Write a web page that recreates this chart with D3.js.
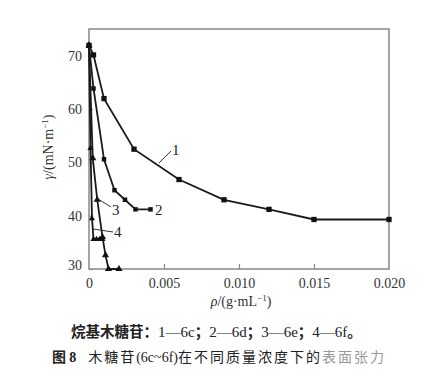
<!DOCTYPE html>
<html><head><meta charset="utf-8">
<script src="https://cdn.jsdelivr.net/npm/d3@7"></script>
<style>body{margin:0;background:#fff}svg{display:block}</style>
</head><body><svg id="c" width="434" height="376"></svg>
<script>
const xTicks = [0, 0.005, 0.010, 0.015, 0.020];
const xTickLabels = ["0", "0.005", "0.010", "0.015", "0.020"];
const yTicks = [30, 40, 50, 60, 70];
const seriesNames = ["1", "2", "3", "4"];
const x1 = [0, 0.0003, 0.001, 0.003, 0.006, 0.009, 0.012, 0.015, 0.020];
const y1 = [72, 70.2, 62.0, 52.5, 46.8, 43.0, 41.2, 39.3, 39.3];
const x2 = [0, 0.0003, 0.001, 0.0017, 0.0024, 0.0031, 0.0041];
const y2 = [72, 63.9, 50.6, 44.8, 43.0, 41.2, 41.2];
const x3 = [0, 0.00025, 0.00055, 0.0009, 0.0011, 0.0013, 0.002];
const y3 = [72, 50.8, 43.0, 36.0, 32.6, 30, 30];
const x4 = [0, 0.0001, 0.0002, 0.0003, 0.0005, 0.0007, 0.0009];
const y4 = [72, 52.7, 39.5, 35.6, 35.6, 35.6, 35.6];

const svg = d3.select("#c");
const L = 89, R = 389, T = 29, B = 269;
const x = d3.scaleLinear().domain([0, 0.020]).range([L, R]);
const y = d3.scaleLinear().domain([30, 75.07]).range([B, T]);
const serif = "'Liberation Serif','DejaVu Serif',serif";
const cjk = "'Noto Sans CJK SC','Noto Sans CJK JP',sans-serif";

// frame
svg.append("rect").attr("x", L).attr("y", T).attr("width", R - L).attr("height", B - T)
  .attr("fill", "none").attr("stroke", "#888").attr("stroke-width", 1.5);

// x axis ticks (inward)
const gx = svg.append("g").attr("transform", `translate(0,${B})`)
  .call(d3.axisBottom(x).tickValues(xTicks).tickSize(-5).tickPadding(9)
    .tickFormat((d, i) => xTickLabels[i]));
gx.select(".domain").remove();
gx.selectAll("line").attr("stroke", "#888").attr("stroke-width", 1.2)
  .filter((d, i) => i === 0 || i === xTicks.length - 1).remove();
gx.selectAll("text").attr("font-family", serif).attr("font-size", 14).attr("fill", "#333");

// y axis ticks (inward)
const gy = svg.append("g").attr("transform", `translate(${L},0)`)
  .call(d3.axisLeft(y).tickValues(yTicks).tickSize(-4).tickPadding(7));
gy.select(".domain").remove();
gy.selectAll("line").attr("stroke", "#888").attr("stroke-width", 1.2);
gy.selectAll("text").attr("font-family", serif).attr("font-size", 14).attr("fill", "#333")
  .attr("dy", (d) => d === 30 ? "0.0em" : "0.32em");

// axis titles
svg.append("text").attr("transform", "translate(53,147) rotate(-90)")
  .attr("text-anchor", "middle").attr("font-family", serif).attr("font-size", 14).attr("fill", "#333")
  .html("<tspan font-style='italic'>γ</tspan>/(mN·m<tspan dy='-5' font-size='9'>−1</tspan><tspan dy='5'>)</tspan>");
svg.append("text").attr("x", 241).attr("y", 306)
  .attr("text-anchor", "middle").attr("font-family", serif).attr("font-size", 14).attr("fill", "#333")
  .html("<tspan font-style='italic'>ρ</tspan>/(g·mL<tspan dy='-5' font-size='9'>−1</tspan><tspan dy='5'>)</tspan>");

// series
const data = [
  { xs: x1, ys: y1, sym: d3.symbolSquare, size: 28 },
  { xs: x2, ys: y2, sym: d3.symbolSquare, size: 20 },
  { xs: x3, ys: y3, sym: d3.symbolTriangle, size: 22 },
  { xs: x4, ys: y4, sym: d3.symbolTriangle, size: 16 }
];
const line = d3.line().x(d => x(d[0])).y(d => y(d[1]));
const plot = svg.append("g");
data.forEach(s => {
  const pts = s.xs.map((v, i) => [v, s.ys[i]]);
  plot.append("path").attr("d", line(pts)).attr("fill", "none")
    .attr("stroke", "#1a1a1a").attr("stroke-width", 1.8);
  plot.selectAll(null).data(pts).enter().append("path")
    .attr("d", d3.symbol().type(s.sym).size(s.size))
    .attr("transform", d => `translate(${x(d[0])},${y(d[1])})`)
    .attr("fill", "#111");
});

// series labels and leaders
const lab = (t, px, py) => svg.append("text").attr("x", px).attr("y", py)
  .attr("font-family", serif).attr("font-size", 15).attr("fill", "#222").text(t);
const leader = (a, b, c, d) => svg.append("line").attr("x1", a).attr("y1", b).attr("x2", c).attr("y2", d)
  .attr("stroke", "#333").attr("stroke-width", 1);
leader(159, 163, 171, 151); lab(seriesNames[0], 172, 155);
lab(seriesNames[1], 155, 215);
leader(98, 199, 111, 207); lab(seriesNames[2], 112, 215);
leader(93, 229, 113, 232); lab(seriesNames[3], 114, 237);

// captions
svg.append("text").attr("x", 71).attr("y", 337).attr("font-size", 15).attr("fill", "#222")
  .html(`<tspan font-family="${cjk}" font-weight="bold" font-size="14.5">烷基木糖苷：</tspan>` +
    `<tspan font-family="${serif}">1—6c</tspan><tspan font-family="${cjk}" font-weight="bold" font-size="14.5">；</tspan>` +
    `<tspan font-family="${serif}">2—6d</tspan><tspan font-family="${cjk}" font-weight="bold" font-size="14.5">；</tspan>` +
    `<tspan font-family="${serif}">3—6e</tspan><tspan font-family="${cjk}" font-weight="bold" font-size="14.5">；</tspan>` +
    `<tspan font-family="${serif}">4—6f</tspan><tspan font-family="${cjk}" font-weight="bold" font-size="14.5">。</tspan>`);
svg.append("text").attr("x", 52).attr("y", 362).attr("font-size", 14).attr("fill", "#222")
  .html(`<tspan font-family="${cjk}" font-weight="bold">图 </tspan><tspan font-family="${serif}" font-weight="bold">8</tspan>` +
    `<tspan dx="12" font-family="${cjk}" letter-spacing="2">木糖苷</tspan><tspan font-family="${serif}">(6c~6f)</tspan>` +
    `<tspan font-family="${cjk}" letter-spacing="2">在不同质量浓度下的</tspan><tspan font-family="${cjk}" letter-spacing="2" fill="#999">表面张力</tspan>`);
</script></body></html>
